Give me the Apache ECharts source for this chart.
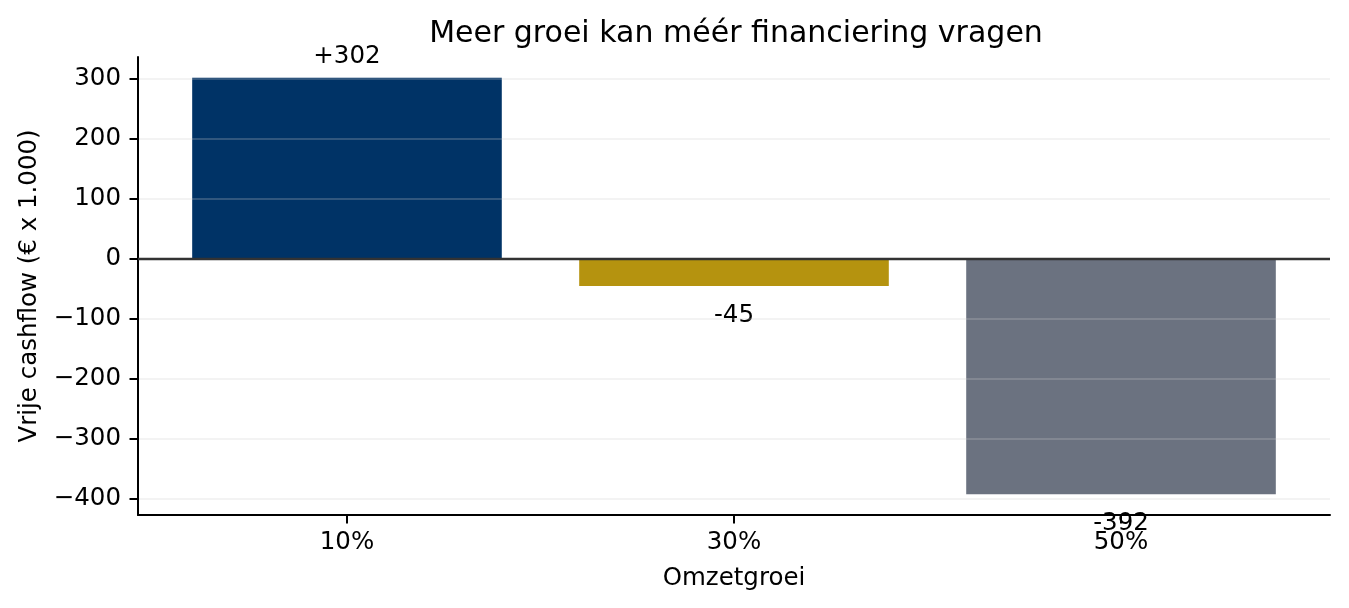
<!DOCTYPE html>
<html lang="nl">
<head>
    <meta charset="UTF-8">
    <title>Vrije cashflow per omzetgroei</title>
    <script src="https://cdn.jsdelivr.net/npm/echarts@6/dist/echarts.min.js"></script>
    <style>
        html, body {margin: 0; padding: 0; background: #fff;}
        #main {width: 1349px; height: 608px;}
    </style>
</head>
<body>
<div id="main"></div>
<script type="text/javascript">
    // data
    var categories = ['10%', '30%', '50%'];
    var cashflow = [302, -45, -392];
    var yTicks = [-400, -300, -200, -100, 0, 100, 200, 300];
    var xTicks = [0, 1, 2];

    var palette = ['#003366', '#b5930f', '#6b7280'];
    var font = 'DejaVu Sans';

    var myChart = echarts.init(document.getElementById('main'));

    // positive labels above the bar, negative ones below it
    var barData = cashflow.map(function (v, i) {
        return {
            value: [i, v],
            itemStyle: {color: palette[i]},
            label: {
                position: v >= 0 ? 'top' : 'bottom',
                distance: v >= 0 ? 9 : 17
            }
        };
    });

    var option = {
        animation: false,
        backgroundColor: '#fff',
        textStyle: {fontFamily: font},
        title: {
            text: 'Meer groei kan méér financiering vragen',
            left: 731,
            textAlign: 'center',
            top: 14,
            textStyle: {fontFamily: font, fontSize: 30, fontWeight: 'normal', color: '#000'}
        },
        grid: {left: 138, right: 19, top: 57, bottom: 93, containLabel: false},
        xAxis: {
            type: 'value',
            min: -0.54,
            max: 2.54,
            name: 'Omzetgroei',
            nameLocation: 'middle',
            nameGap: 51,
            nameTextStyle: {fontFamily: font, fontSize: 24.5, color: '#000'},
            axisLine: {show: true, onZero: false, lineStyle: {color: '#000', width: 2}},
            axisTick: {show: true, customValues: xTicks, length: 8.5, lineStyle: {color: '#000', width: 2}},
            axisLabel: {
                customValues: xTicks,
                margin: 15,
                fontFamily: font, fontSize: 24.5, color: '#000',
                formatter: function (v) { return categories[Math.round(v)]; }
            },
            splitLine: {show: false}
        },
        yAxis: {
            type: 'value',
            min: -426.7,
            max: 336.7,
            z: 3,
            name: 'Vrije cashflow (€ x 1.000)',
            nameLocation: 'middle',
            nameRotate: 90,
            nameGap: 96,
            nameTextStyle: {fontFamily: font, fontSize: 24.5, color: '#000'},
            axisLine: {show: true, onZero: false, lineStyle: {color: '#000', width: 2}},
            axisTick: {show: true, customValues: yTicks, length: 8.5, lineStyle: {color: '#000', width: 2}},
            axisLabel: {
                customValues: yTicks,
                margin: 17,
                fontFamily: font, fontSize: 24.5, color: '#000',
                formatter: function (v) { return String(v).replace('-', '\u2212'); }
            },
            splitLine: {show: true, lineStyle: {color: 'rgba(204,204,204,0.32)', width: 1.5}}
        },
        series: [{
            type: 'bar',
            barWidth: '80%',
            data: barData,
            label: {
                show: true,
                fontFamily: font,
                fontSize: 24.5,
                color: '#000',
                formatter: function (p) {
                    var v = p.value[1];
                    return v > 0 ? '+' + v : String(v);
                }
            },
            markLine: {
                silent: true,
                symbol: 'none',
                label: {show: false},
                lineStyle: {color: '#333', width: 2.4, type: 'solid'},
                data: [{yAxis: 0}]
            }
        }]
    };

    myChart.setOption(option);
</script>
</body>
</html>
